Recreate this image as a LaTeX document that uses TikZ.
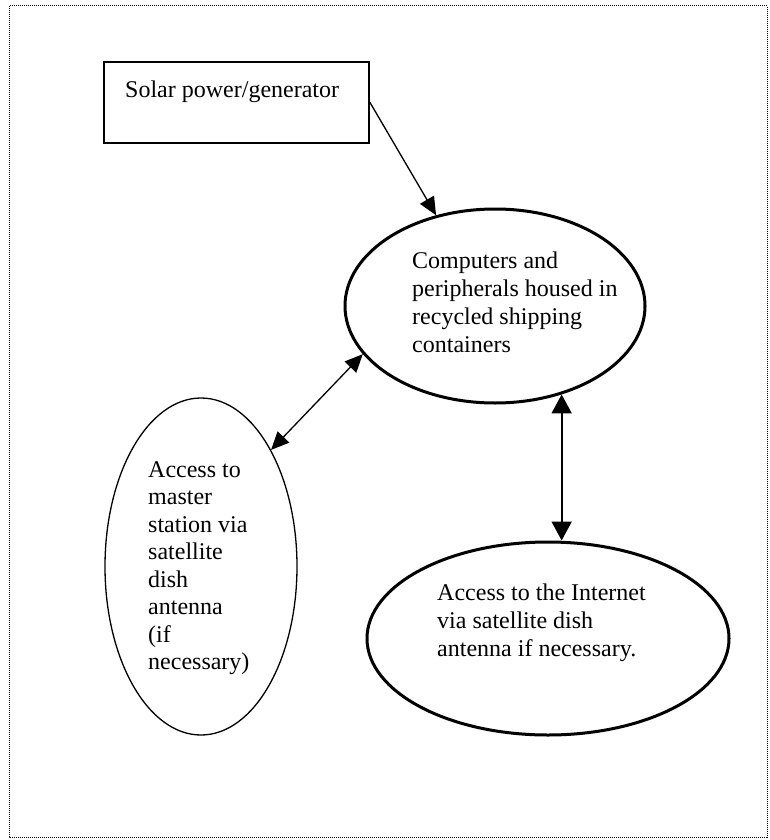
\documentclass[tikz,border=0pt]{standalone}
\usepackage{fontspec}
\setmainfont{Liberation Serif}
\usetikzlibrary{arrows.meta,shapes.geometric}
\begin{document}
\begin{tikzpicture}[x=1pt,y=-1pt,
  txt/.style={anchor=north west,inner sep=0pt,align=left,font=\fontsize{24}{28}\selectfont},
  oval/.style={draw,ellipse,inner sep=0pt},
  conn/.style={line width=1.3pt,-{Triangle[length=18pt,width=16pt]}},
  dconn/.style={line width=1.3pt,{Triangle[length=18pt,width=16pt]}-{Triangle[length=18pt,width=16pt]}},
  vconn/.style={line width=2pt,{Triangle[length=19pt,width=20pt]}-{Triangle[length=19pt,width=20pt]}}]
\useasboundingbox (0,0) rectangle (769,840);
\draw[line width=1pt,dash pattern=on 1pt off 1pt] (9,6) rectangle (767,837);

\node[draw,line width=2pt,minimum width=265pt,minimum height=81pt,inner sep=0pt] (solar) at (236.5,102.5) {};
\node[txt] (solartxt) at (125,81) {Solar power/generator};

\node[oval,line width=3pt,minimum width=300pt,minimum height=194pt] (comp) at (495,306) {};
\node[txt] (comptxt) at (412,252) {Computers and\\peripherals housed in\\recycled shipping\\containers};

\node[oval,line width=1.3pt,minimum width=192pt,minimum height=337pt] (master) at (201,566.5) {};
\node[txt,font=\fontsize{24}{27.5}\selectfont] (mastertxt) at (148,461) {Access to\\master\\station via\\satellite\\dish\\antenna\\(if\\necessary)};

\node[oval,line width=3pt,minimum width=362pt,minimum height=193pt] (inet) at (548,638.5) {};
\node[txt] (inettxt) at (437,584) {Access to the Internet\\via satellite dish\\antenna if necessary.};

\draw[conn] (solar.east) -- (comp.123);
\draw[dconn] (comp.200) -- (master.59);
\draw[vconn] (comp.-53) -- (comp.-53 |- inet.north);
\end{tikzpicture}
\end{document}
